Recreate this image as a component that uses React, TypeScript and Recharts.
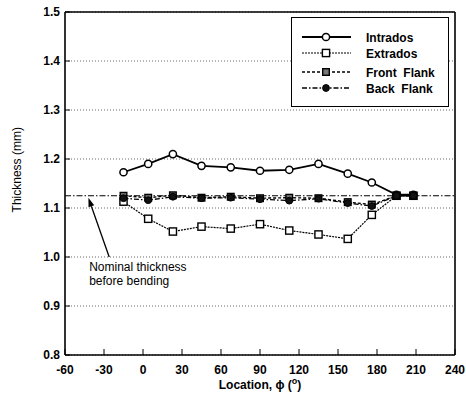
import React from 'react';
import { LineChart, Line, XAxis, YAxis, CartesianGrid, ReferenceLine } from 'recharts';

// measurement locations (degrees) and thickness (mm) for each region of the bend
const locations = [-15, 4, 23, 45, 67.5, 90, 112.5, 135, 157.5, 176, 195, 208];
const intrados = [1.173, 1.19, 1.21, 1.186, 1.183, 1.176, 1.178, 1.19, 1.17, 1.152, 1.127, 1.127];
const extrados = [1.113, 1.078, 1.052, 1.062, 1.058, 1.067, 1.054, 1.046, 1.037, 1.086, 1.125, 1.125];
const frontFlank = [1.125, 1.121, 1.126, 1.121, 1.123, 1.12, 1.121, 1.12, 1.112, 1.107, 1.125, 1.125];
const backFlank = [1.12, 1.116, 1.123, 1.12, 1.121, 1.118, 1.115, 1.119, 1.11, 1.104, 1.125, 1.125];

const xTicks = [-60, -30, 0, 30, 60, 90, 120, 150, 180, 210, 240];
const yTicks = [0.8, 0.9, 1.0, 1.1, 1.2, 1.3, 1.4, 1.5];
const nominal = 1.125;
const arrowFrom = { x: -26, y: 1.0 };
const arrowTo = { x: -42, y: 1.121 };

const data = locations.map((loc, i) => ({
  loc,
  intrados: intrados[i],
  extrados: extrados[i],
  front: frontFlank[i],
  back: backFlank[i],
}));

const FONT = '"Liberation Sans", Arial, Helvetica, sans-serif';

type Marker = 'openCircle' | 'openSquare' | 'graySquare' | 'dotCircle';

function drawMarker(kind: Marker, cx: number, cy: number, key?: string) {
  if (kind === 'openCircle') return <circle key={key} cx={cx} cy={cy} r={3.6} fill="#fff" stroke="#000" strokeWidth={1.5} />;
  if (kind === 'dotCircle') return <circle key={key} cx={cx} cy={cy} r={3.4} fill="#111" stroke="#000" strokeWidth={1} />;
  if (kind === 'openSquare') return <rect key={key} x={cx - 3.6} y={cy - 3.6} width={7.2} height={7.2} fill="#fff" stroke="#000" strokeWidth={1.4} />;
  return <rect key={key} x={cx - 3.3} y={cy - 3.3} width={6.6} height={6.6} fill="#777" stroke="#000" strokeWidth={1.4} />;
}

const series: Array<{ key: string; name: string; dash?: string; width: number; marker: Marker }> = [
  { key: 'intrados', name: 'Intrados', width: 1.8, marker: 'openCircle' },
  { key: 'extrados', name: 'Extrados', dash: '2 1', width: 1.2, marker: 'openSquare' },
  { key: 'front', name: 'Front  Flank', dash: '3 2', width: 1.4, marker: 'graySquare' },
  { key: 'back', name: 'Back  Flank', dash: '5 2 1.5 2', width: 1.3, marker: 'dotCircle' },
];

function LegendBox() {
  const rows = [19, 35, 54, 70];
  return (
    <div style={{ position: 'absolute', left: 291, top: 17, width: 156, height: 88, border: '1.5px solid #000', background: '#fff' }}>
      <svg width={156} height={88} style={{ display: 'block' }}>
        {series.map((s, i) => (
          <g key={s.key}>
            <line x1={10} x2={59} y1={rows[i]} y2={rows[i]} stroke="#000" strokeWidth={s.width} strokeDasharray={s.dash} />
            {drawMarker(s.marker, 34, rows[i])}
            <text x={74} y={rows[i] + 4.5} fontFamily={FONT} fontWeight="bold" fontSize={12} fill="#000" style={{ whiteSpace: 'pre' }}>
              {s.name}
            </text>
          </g>
        ))}
      </svg>
    </div>
  );
}

function ArrowNote(props: any) {
  const { x1, y1, x2, y2 } = props;
  const ang = Math.atan2(y2 - y1, x2 - x1);
  const L = 9;
  const W = 3;
  const bx = x2 - L * Math.cos(ang);
  const by = y2 - L * Math.sin(ang);
  const px = -Math.sin(ang) * W;
  const py = Math.cos(ang) * W;
  return (
    <g>
      <line x1={x1} y1={y1} x2={bx} y2={by} stroke="#000" strokeWidth={1.3} />
      <polygon points={`${x2},${y2} ${bx + px},${by + py} ${bx - px},${by - py}`} fill="#000" />
      <text x={x1 - 20} y={y1 + 14} fontFamily={FONT} fontSize={12} fill="#000">Nominal thickness</text>
      <text x={x1 - 20} y={y1 + 28} fontFamily={FONT} fontSize={12} fill="#000">before bending</text>
    </g>
  );
}

export default function App() {
  return (
    <div style={{ position: 'absolute', left: 0, top: 0, width: 466, height: 408, background: '#fff' }}>
      <LineChart width={466} height={408} data={data} margin={{ top: 12, right: 11, bottom: 0, left: 0 }}>
        <CartesianGrid horizontal vertical={false} stroke="#444" strokeDasharray="1 2" strokeWidth={0.8} />
        <XAxis
          dataKey="loc"
          type="number"
          domain={[-60, 240]}
          ticks={xTicks}
          interval={0}
          allowDataOverflow
          height={53}
          tickSize={-6}
          tickMargin={16}
          axisLine={{ stroke: '#000', strokeWidth: 1.6 }}
          tickLine={{ stroke: '#000', strokeWidth: 1 }}
          tick={{ fill: '#000', fontSize: 12, fontWeight: 'bold', fontFamily: FONT }}
          label={{
            content: ({ viewBox }: any) => (
              <text x={viewBox.x + viewBox.width / 2} y={389} textAnchor="middle" fontFamily={FONT} fontWeight="bold" fontSize={12} fill="#000">
                Location, ϕ (<tspan dy={-5} fontSize={9}>o</tspan><tspan dy={5}>)</tspan>
              </text>
            ),
          }}
        />
        <YAxis
          type="number"
          domain={[0.8, 1.5]}
          ticks={yTicks}
          interval={0}
          allowDataOverflow
          width={65}
          tickSize={-5}
          tickMargin={10}
          tickFormatter={(v: number) => v.toFixed(1)}
          axisLine={{ stroke: '#000', strokeWidth: 1.6 }}
          tickLine={{ stroke: '#000', strokeWidth: 1 }}
          tick={{ fill: '#000', fontSize: 12, fontWeight: 'bold', fontFamily: FONT }}
          label={{
            content: ({ viewBox }: any) => {
              const cy = viewBox.y + viewBox.height * 0.46;
              return (
                <text x={21} y={cy} transform={`rotate(-90, 21, ${cy})`} textAnchor="middle" fontFamily={FONT} fontSize={12} fill="#000">
                  Thickness (mm)
                </text>
              );
            },
          }}
        />
        <ReferenceLine y={1.5} stroke="#000" strokeWidth={1.4} />
        <ReferenceLine x={240} stroke="#000" strokeWidth={1.6} />
        <ReferenceLine y={nominal} stroke="#000" strokeWidth={1.2} strokeDasharray="6 2 1.5 2" />
        <ReferenceLine segment={[arrowFrom, arrowTo]} shape={ArrowNote} ifOverflow="visible" />
        {series.map((s) => (
          <Line
            key={s.key}
            dataKey={s.key}
            name={s.name}
            type="linear"
            stroke="#000"
            strokeWidth={s.width}
            strokeDasharray={s.dash}
            isAnimationActive={false}
            dot={(p: any) => drawMarker(s.marker, p.cx, p.cy, `${s.key}-${p.index}`)}
            activeDot={false}
          />
        ))}
      </LineChart>
      <LegendBox />
    </div>
  );
}
